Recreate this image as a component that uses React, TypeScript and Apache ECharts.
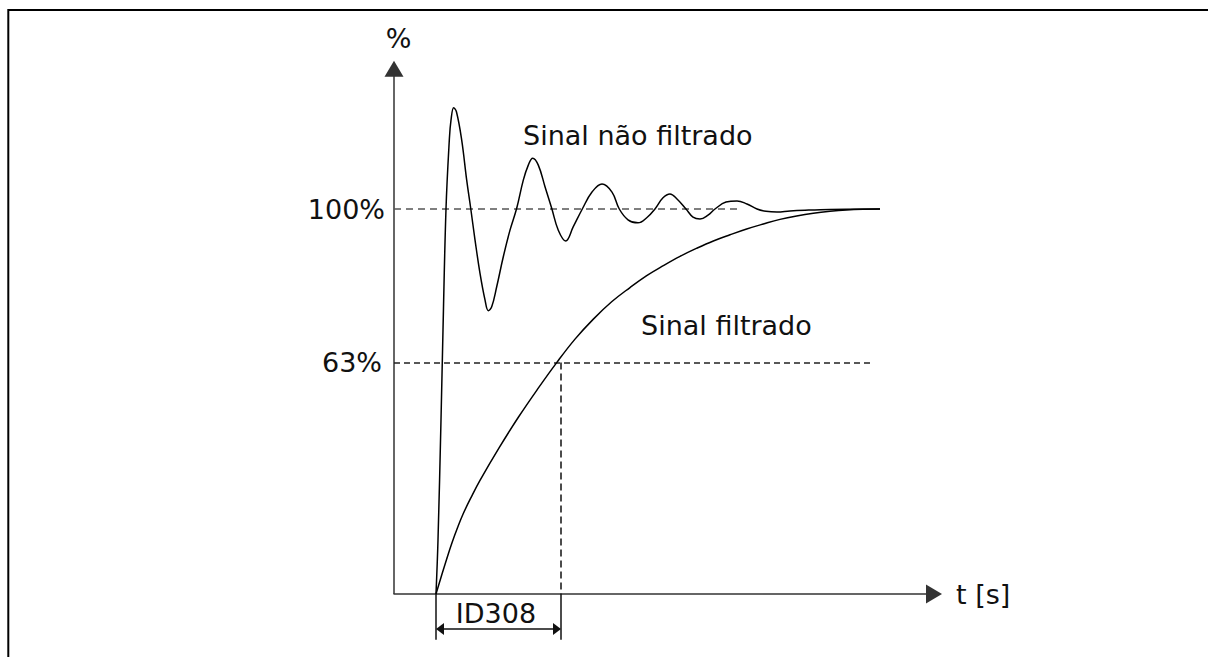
import React, { useEffect, useRef } from "react";
import * as echarts from "echarts";

// Unfiltered (oscillating) signal: [time, %]
const unfilteredSignal: [number, number][] = [
  [8.4, 0], [8.8, 14.0], [9.4, 45.2], [9.8, 68.6], [10.4, 100], [11.06, 117.9],
  [11.4, 123.1], [11.94, 126.3], [12.5, 125.2], [13.54, 117.9], [14.54, 107.5],
  [15.34, 100.2], [16.2, 92.0], [17.2, 83.3], [18.2, 76.4], [18.86, 73.6], [19.54, 74.6],
  [20.54, 79.8], [21.86, 87.6], [23.2, 94.5], [24.54, 100.2], [25.86, 107.5],
  [26.86, 111.4], [27.74, 113.2], [28.86, 111.4], [30.2, 105.8], [31.54, 100.2],
  [32.86, 94.5], [34.34, 91.7], [35.86, 95.4], [37.66, 100], [39.6, 104.4],
  [41.6, 106.5], [43.6, 104.4], [45.06, 100], [46.8, 97.2], [48.8, 96.4], [50.6, 97.8],
  [52.2, 100], [53.8, 102.9], [55.2, 103.9], [56.6, 102.6], [58.4, 100], [59.8, 97.9],
  [61.2, 97.4], [62.8, 98.4], [64.2, 100], [66.4, 101.8], [68.6, 102.1], [70.6, 101.3],
  [72.6, 100], [74.4, 99.4], [76.6, 99.2], [79.2, 99.5], [82.2, 99.7], [87.2, 99.9],
  [97.2, 100],
];

// Filtered (first order) signal: [time, %]
const filteredSignal: [number, number][] = [
  [8.4, 0], [9.47, 4.6], [10.54, 9.1], [11.6, 13.3], [12.7, 17.2], [13.86, 20.9],
  [15.5, 25.3], [17.2, 29.5], [21.04, 38.0], [24.87, 45.9], [28.71, 53.2],
  [32.54, 60.1], [36.2, 66.2], [39.87, 71.4], [43.53, 75.9], [47.2, 79.6],
  [50.54, 82.7], [53.87, 85.3], [57.2, 87.7], [60.54, 89.8], [63.87, 91.7],
  [67.2, 93.3], [70.53, 94.8], [73.86, 96.1], [77.2, 97.3], [80.53, 98.2],
  [83.87, 98.9], [87.2, 99.4], [90.5, 99.75], [93.8, 99.93], [97.2, 100],
];

const seriesNames = ["Sinal não filtrado", "Sinal filtrado"];
const levelLabels = ["100%", "63%"];
const levels = [100, 60.1];
const levelLineEnds = [69.2, 95.5];
const stepStart = 8.4;
const tauEnd = 33.4;
const dimensionLabel = "ID308";
const dimensionLevel = -9.1;
const extensionBottom = -11.9;
const yAxisTop = 136.4;
const xAxisName = "t [s]";
const yAxisName = "%";

const FONT = "DejaVu Sans";

export default function App() {
  const ref = useRef<HTMLDivElement>(null);

  useEffect(() => {
    if (!ref.current) return;
    const chart = echarts.init(ref.current, null, { renderer: "svg" });

    const dashed = (dash: number[], color: string) => ({
      type: dash,
      color,
      width: 1.5,
    });

    const option: any = {
      animation: false,
      backgroundColor: "#fff",
      grid: { left: 394, right: 274, top: 55, bottom: 5.25 },
      xAxis: {
        type: "value",
        min: 0,
        max: 108,
        name: xAxisName,
        nameLocation: "end",
        nameGap: 22,
        nameTextStyle: { fontFamily: FONT, fontSize: 27, color: "#111" },
        axisLine: {
          show: true,
          onZero: true,
          symbol: ["none", "triangle"],
          symbolSize: [19, 16],
          lineStyle: { color: "#333", width: 1.5 },
        },
        axisTick: { show: false },
        axisLabel: { show: false },
        splitLine: { show: false },
      },
      yAxis: {
        type: "value",
        min: -15,
        max: 140,
        axisLine: { show: false },
        axisTick: { show: false },
        axisLabel: { show: false },
        splitLine: { show: false },
      },
      series: [
        {
          name: seriesNames[0],
          type: "line",
          data: unfilteredSignal,
          smooth: 0.4,
          showSymbol: false,
          lineStyle: { color: "#000", width: 1.5 },
          z: 5,
        },
        {
          name: seriesNames[1],
          type: "line",
          data: filteredSignal,
          smooth: 0.4,
          showSymbol: false,
          lineStyle: { color: "#000", width: 1.5 },
          z: 5,
        },
        {
          type: "line",
          data: [],
          markLine: {
            silent: true,
            animation: false,
            symbol: ["none", "none"],
            label: { show: false },
            data: [
              [
                { coord: [0, 0], symbol: "none" },
                {
                  coord: [0, yAxisTop],
                  symbol: "triangle",
                  symbolSize: [19, 16],
                  lineStyle: { color: "#333", width: 1.5, type: "solid" },
                },
              ],
              [
                {
                  coord: [0, levels[0]],
                  lineStyle: dashed([7, 5], "#555"),
                  label: {
                    show: true,
                    position: "start",
                    formatter: levelLabels[0],
                    distance: 9,
                    fontFamily: FONT,
                    fontSize: 27,
                    color: "#111",
                  },
                },
                { coord: [levelLineEnds[0], levels[0]] },
              ],
              [
                {
                  coord: [0, levels[1]],
                  lineStyle: dashed([6, 4], "#222"),
                  label: {
                    show: true,
                    position: "start",
                    formatter: levelLabels[1],
                    distance: 12,
                    fontFamily: FONT,
                    fontSize: 27,
                    color: "#111",
                  },
                },
                { coord: [levelLineEnds[1], levels[1]] },
              ],
              [
                { coord: [tauEnd, levels[1]], lineStyle: dashed([7, 4], "#111") },
                { coord: [tauEnd, 0] },
              ],
              [
                { coord: [tauEnd, 0], lineStyle: { type: "solid", color: "#111", width: 1.5 } },
                { coord: [tauEnd, extensionBottom] },
              ],
              [
                { coord: [stepStart, 0], lineStyle: { type: "solid", color: "#111", width: 1.5 } },
                { coord: [stepStart, extensionBottom] },
              ],
              [
                {
                  coord: [stepStart + 0.8, dimensionLevel],
                  symbol: "triangle",
                  symbolSize: [12, 8],
                  lineStyle: { type: "solid", color: "#111", width: 1.5 },
                },
                {
                  coord: [tauEnd - 0.8, dimensionLevel],
                  symbol: "triangle",
                  symbolSize: [12, 8],
                },
              ],
            ],
          },
        },
      ],
      graphic: [
        {
          type: "rect",
          silent: true,
          z: -1,
          shape: { x: 8.3, y: 10, width: 1300, height: 800 },
          style: { fill: "none", stroke: "#000", lineWidth: 2 },
        },
        {
          type: "text",
          x: 398.5,
          y: 38,
          style: {
            text: yAxisName,
            font: `27px '${FONT}'`,
            fill: "#111",
            textAlign: "center",
            textVerticalAlign: "middle",
          },
        },
        {
          type: "text",
          x: 523,
          y: 135,
          style: {
            text: seriesNames[0],
            font: `27px '${FONT}'`,
            fill: "#111",
            textAlign: "left",
            textVerticalAlign: "middle",
          },
        },
        {
          type: "text",
          x: 641,
          y: 325,
          style: {
            text: seriesNames[1],
            font: `27px '${FONT}'`,
            fill: "#111",
            textAlign: "left",
            textVerticalAlign: "middle",
          },
        },
        {
          type: "text",
          x: 496,
          y: 613,
          style: {
            text: dimensionLabel,
            font: `27px '${FONT}'`,
            fill: "#111",
            textAlign: "center",
            textVerticalAlign: "middle",
          },
        },
      ],
    };

    chart.setOption(option);
    return () => chart.dispose();
  }, []);

  return (
    <div
      ref={ref}
      style={{ position: "fixed", left: 0, top: 0, width: 1208, height: 657, background: "#fff" }}
    />
  );
}
